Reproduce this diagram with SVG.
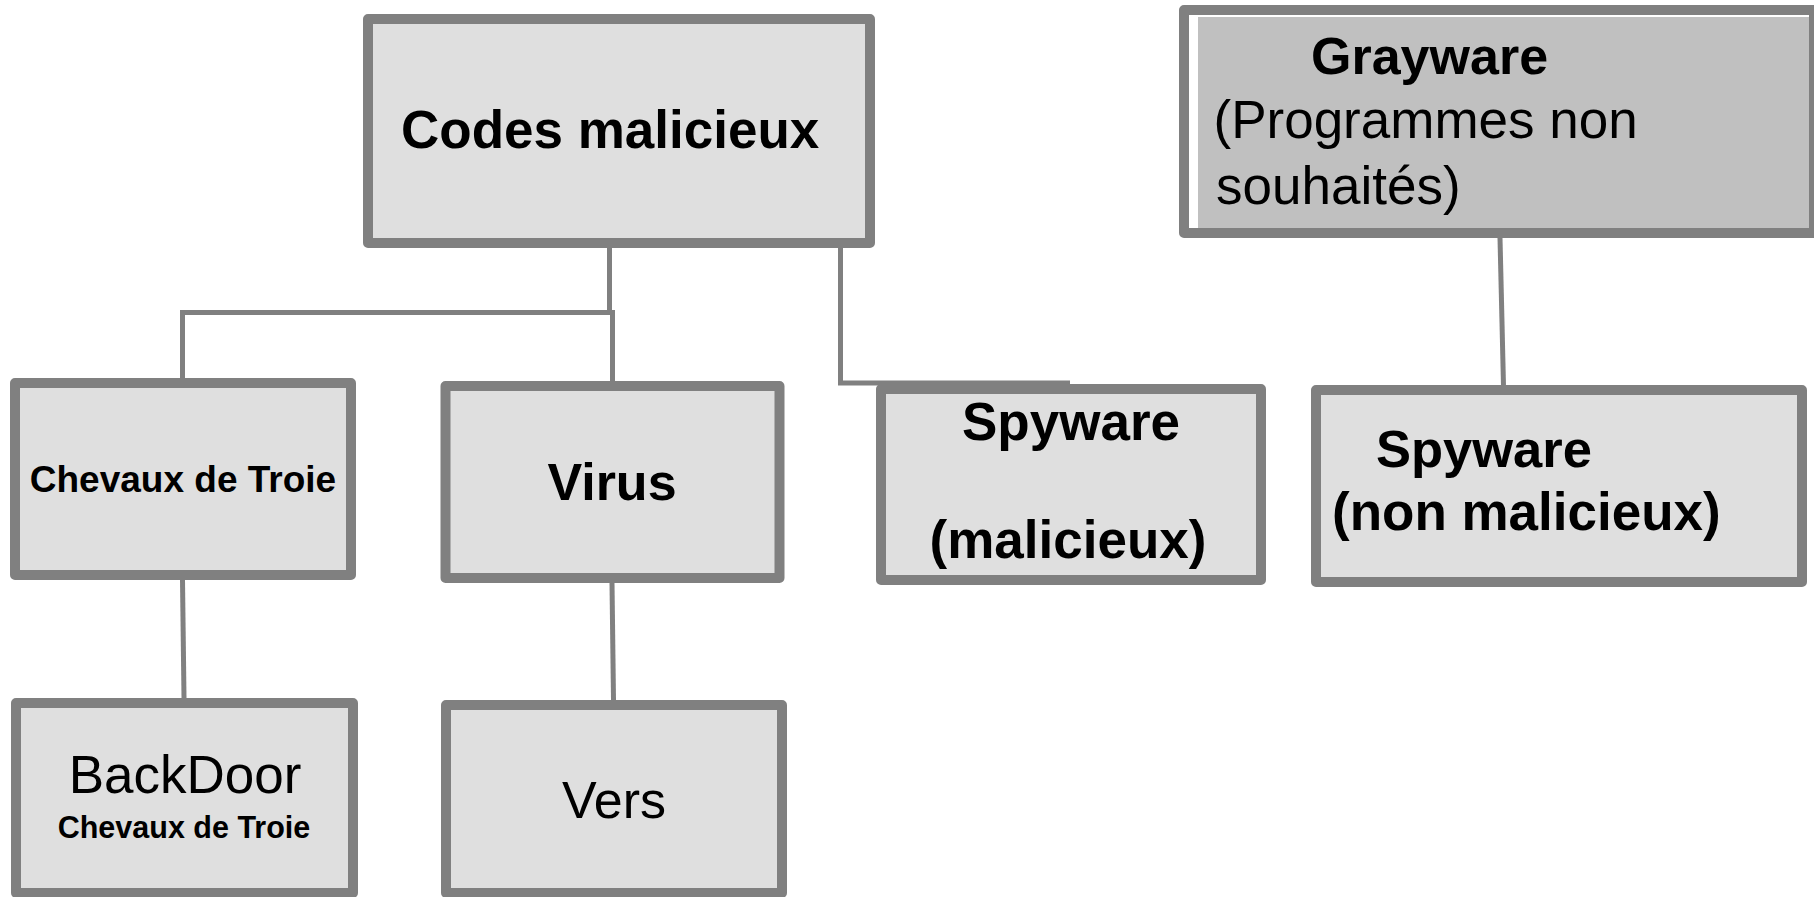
<svg xmlns="http://www.w3.org/2000/svg" width="1814" height="897" viewBox="0 0 1814 897">
<style>
  .box { fill: #dfdfdf; stroke: #808080; stroke-width: 10; stroke-linejoin: round; }
  .conn { fill: none; stroke: #808080; stroke-width: 5; }
  text { font-family: "Liberation Sans", Arial, sans-serif; fill: #000; }
  .b { font-weight: bold; }
  .c { text-anchor: middle; }
</style>
<rect width="1814" height="897" fill="#ffffff"/>
<g id="connectors">
  <path class="conn" d="M609.5 248 V312.5"/>
  <path class="conn" d="M182.5 378 V312.5 H612"/>
  <path class="conn" d="M612.5 310 V382"/>
  <path class="conn" d="M840.5 248 V383 H1070"/>
  <path class="conn" d="M1500 238 L1503.5 386"/>
  <path class="conn" d="M182.5 580 L184 698"/>
  <path class="conn" d="M612 583 L613.5 700"/>
</g>
<g id="codes-malicieux">
  <rect class="box" x="368" y="19" width="502" height="224"/>
  <text class="b" x="401" y="148" font-size="53">Codes malicieux</text>
</g>
<g id="grayware">
  <rect x="1184" y="10" width="630" height="223" fill="#ffffff" stroke="#808080" stroke-width="10" stroke-linejoin="round"/>
  <rect x="1198" y="17" width="611" height="211" fill="#c0c0c0"/>
  <text class="b" x="1311" y="74" font-size="52">Grayware</text>
  <text x="1213.5" y="138" font-size="53">(Programmes non</text>
  <text x="1216" y="204" font-size="53">souhaités)</text>
</g>
<g id="chevaux-de-troie">
  <rect class="box" x="15" y="383" width="336" height="192"/>
  <text class="b c" x="183" y="492" font-size="37">Chevaux de Troie</text>
</g>
<g id="virus">
  <rect class="box" x="445.5" y="386" width="334" height="192"/>
  <text class="b c" x="612" y="500" font-size="52">Virus</text>
</g>
<g id="spyware-malicieux">
  <rect class="box" x="881" y="389" width="380" height="191"/>
  <text class="b c" x="1071" y="440" font-size="53">Spyware</text>
  <text class="b c" x="1068" y="558" font-size="53">(malicieux)</text>
</g>
<g id="spyware-non-malicieux">
  <rect class="box" x="1316" y="390" width="486" height="192"/>
  <text class="b" x="1376" y="467" font-size="52.5">Spyware</text>
  <text class="b" x="1332" y="530" font-size="53">(non malicieux)</text>
</g>
<g id="backdoor">
  <rect class="box" x="16" y="703" width="337" height="190"/>
  <text class="c" x="185" y="793" font-size="53">BackDoor</text>
  <text class="b c" x="184" y="838" font-size="30.5">Chevaux de Troie</text>
</g>
<g id="vers">
  <rect class="box" x="446" y="705" width="336" height="188"/>
  <text class="c" x="614" y="818" font-size="52">Vers</text>
</g>
</svg>
